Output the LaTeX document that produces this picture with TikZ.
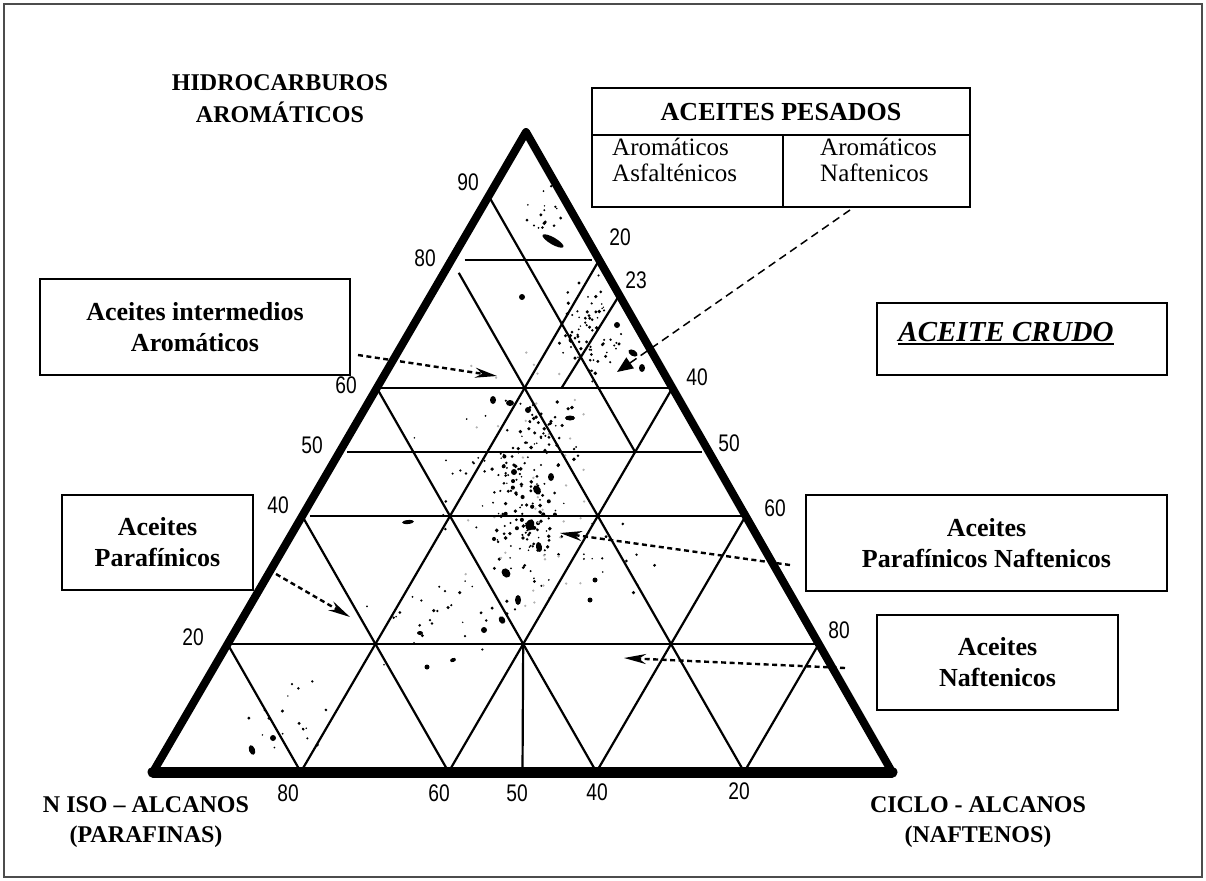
\documentclass[tikz,border=0pt]{standalone}
\usepackage{fontspec}
\setmainfont{Liberation Serif}
\newfontfamily\numfont[FakeStretch=0.8]{Liberation Sans}
\usetikzlibrary{arrows.meta}
\makeatletter
\def\tern@parse#1,#2\relax{%
  \pgfmathsetmacro\tern@x{153+373*(#1)+739*(#2)}%
  \pgfmathsetmacro\tern@y{772-640*(#1)}%
  \pgfpointxy{\tern@x}{\tern@y}}
\tikzdeclarecoordinatesystem{tern}{\tern@parse#1\relax}
\makeatother
\begin{document}
\begin{tikzpicture}[x=1pt,y=-1pt,
  grid/.style={line width=2.2pt},
  edgeline/.style={line width=8pt,line join=round,line cap=round},
  box/.style={draw,line width=1.6pt,inner sep=0pt},
  btext/.style={font=\bfseries\fontsize{26}{31}\selectfont,align=center},
  rtext/.style={font=\fontsize{25}{26}\selectfont,align=left,inner sep=0pt},
  axislab/.style={font=\bfseries\fontsize{24}{30}\selectfont,align=center},
  num/.style={font=\numfont\fontsize{24}{24}\selectfont,inner sep=0pt},
  pesarrow/.style={line width=1.5pt,dash pattern=on 8pt off 5pt,-{Triangle[length=16pt,width=13pt]}},
  scanarrow/.style={line width=2.4pt,dash pattern=on 5pt off 3.5pt,-{Stealth[length=22pt,width=10pt]}},
  speck/.style={fill=black}]
\useasboundingbox (0,0) rectangle (1206,880);
\draw[line width=2.5pt,black!70] (4,4) rectangle (1202,877);

% triangle vertices
\coordinate (A) at (526,132);
\coordinate (P) at (153,772);
\coordinate (N) at (892,772);

% speckles (crude oil samples)
\begin{scope}
\clip (A) -- (P) -- (N) -- cycle;
\pgfmathsetseed{4}
\foreach \cx/\cy/\sx/\sy/\k/\sz in {525/520/40/95/120/1.3, 590/330/35/60/70/1.1, 545/430/40/40/40/1.2, 285/720/55/40/18/1.0, 440/610/80/60/30/1.0, 545/215/25/35/16/1.0, 610/560/60/40/14/1.0, 500/470/90/80/40/0.7}{
  \foreach \i in {1,...,\k}{
    \pgfmathsetmacro\px{\cx+\sx*(rand+rand)/2}
    \pgfmathsetmacro\py{\cy+\sy*(rand+rand)/2}
    \pgfmathsetmacro\pr{0.8+\sz*rnd}
    \fill[speck] (\px,\py) circle[radius=\pr];
  }
}
\pgfmathsetseed{11}
\foreach \i in {1,...,45}{
  \pgfmathsetmacro\px{520+70*rand}
  \pgfmathsetmacro\py{480+150*rand}
  \fill[black!30] (\px,\py) circle[radius=1.3];
}
\foreach \bx/\by/\ra/\rb/\rt in {537/490/3.5/5/30, 530/525/4/6/-20, 539/547/3/5/10, 506/573/4/5/40, 518/600/3/5/0, 502/620/3/4/30, 484/630/3/3/0, 420/633/3/2/0, 427/667/2.5/2.5/0, 453/660/3/2/20, 408/522/6/2/5, 551/477/3/4/0, 514/472/3/3/0, 522/297/3/3/0, 493/400/3/4/0, 510/403/4/3/0, 528/410/3/3/0, 570/418/5/2.5/0, 617/325/3/3/0, 633/353/5/3/-30, 642/368/3/4/0, 650/340/3/3/0, 252/750/3/5/20, 273/738/3/3/0, 595/580/2.5/2.5/0, 590/600/2.5/2.5/0}{
  \fill[speck,rotate around={\rt:(\bx,\by)}] (\bx,\by) ellipse[x radius=\ra,y radius=\rb];
}
\fill[speck,rotate around={-30:(553,241)}] (553,241) ellipse[x radius=12,y radius=3.5];
\end{scope}

% horizontal grid lines (aromatic %)
\draw[grid] (tern cs:0.8,0.018) -- (tern cs:0.8,0.19);
\draw[grid] (tern cs:0.6,0) -- (tern cs:0.6,0.395);
\draw[grid] (tern cs:0.5,0.01) -- (tern cs:0.5,0.49);
\draw[grid] (tern cs:0.4,0.01) -- (tern cs:0.4,0.595);
\draw[grid] (tern cs:0.2,0) -- (tern cs:0.2,0.8);
% lines parallel to left side
\draw[grid] (tern cs:0,0.2) -- (tern cs:0.8,0.2);
\draw[grid] (tern cs:0,0.4) -- (tern cs:0.6,0.4);
\draw[grid] (tern cs:0,0.6) -- (tern cs:0.4,0.6);
\draw[grid] (tern cs:0,0.8) -- (tern cs:0.2,0.8);
\draw[grid] (tern cs:0.6,0.25) -- (tern cs:0.745,0.255);
% lines parallel to right side
\draw[grid] (tern cs:0.2,0) -- (tern cs:0,0.2);
\draw[grid] (tern cs:0.4,0) -- (tern cs:0,0.4);
\draw[grid] (tern cs:0.6,0) -- (tern cs:0,0.6);
\draw[grid] (tern cs:0.78,0.02) -- (tern cs:0,0.8);
\draw[grid] (tern cs:0.895,0.005) -- (tern cs:0.5,0.4);
% vertical 50 line
\draw[grid] (tern cs:0.2,0.4) -- (tern cs:0,0.5);

% triangle outline
\draw[edgeline] (A) -- (P) -- (N) -- cycle;
\draw[line width=11pt,line cap=round] (P) -- (N);

% scale numbers
\node[num] (l90) at (468,182) {90};
\node[num] (l80) at (425,258) {80};
\node[num] (l60) at (346,385) {60};
\node[num] (l50) at (312,445) {50};
\node[num] (l40) at (278,505) {40};
\node[num] (l20) at (193,637) {20};
\node[num] (r20) at (620,237) {20};
\node[num] (r23) at (636,280) {23};
\node[num] (r40) at (697,377) {40};
\node[num] (r50) at (729,443) {50};
\node[num] (r60) at (775,508) {60};
\node[num] (r80) at (839,630) {80};
\node[num] (b80) at (288,793) {80};
\node[num] (b60) at (439,793) {60};
\node[num] (b50) at (517,793) {50};
\node[num] (b40) at (597,792) {40};
\node[num] (b20) at (739,791) {20};

% corner labels
\node[axislab,font=\bfseries\fontsize{24}{32}\selectfont] (aro) at (280,99) {HIDROCARBUROS\\AROMÁTICOS};
\node[axislab] (parlab) at (146,822) {N ISO – ALCANOS\\(PARAFINAS)};
\node[axislab] (naflab) at (978,822) {CICLO - ALCANOS\\(NAFTENOS)};

% boxes
\node[box,btext,minimum width=310,minimum height=96] (inter) at (195,327) {Aceites intermedios\\Aromáticos};
\node[box,btext,minimum width=191,minimum height=95] (parf) at (157.5,542.5) {Aceites\\Parafínicos};
\node[box,btext,minimum width=361,minimum height=96] (pnaf) at (986.5,543) {Aceites\\Parafínicos Naftenicos};
\node[box,btext,minimum width=241,minimum height=95] (nafb) at (997.5,662.5) {Aceites\\Naftenicos};
\node[box,minimum width=290,minimum height=72] (crudo) at (1022,339) {};
\node[font=\bfseries\itshape\fontsize{29}{34}\selectfont,inner sep=0pt] (crudot) at (1006,332) {ACEITE CRUDO};
\draw[line width=2pt] ([yshift=-3pt]crudot.base west) -- ([yshift=-3pt]crudot.base east);

% heavy oils table
\node[box,minimum width=378,minimum height=119] (pes) at (781,147.5) {};
\coordinate (hdL) at (592,135);
\coordinate (hdR) at (970,135);
\coordinate (dvT) at (783,135);
\coordinate (dvB) at (783,207);
\draw[line width=1.6pt] (hdL) -- (hdR);
\draw[line width=1.6pt] (dvT) -- (dvB);
\node[font=\bfseries\fontsize{26}{31}\selectfont] (pest) at (781,112) {ACEITES PESADOS};
\node[rtext,anchor=west] (asf) at (612,160) {Aromáticos\\Asfalténicos};
\node[rtext,anchor=west] (nafp) at (820,160) {Aromáticos\\Naftenicos};

% arrows
\coordinate (pesS) at (850,210);
\coordinate (pesE) at (617,372);
\draw[pesarrow] (pesS) -- (pesE);
\coordinate (intS) at (358,355);
\coordinate (intE) at (497,376);
\draw[scanarrow] (intS) -- (intE);
\coordinate (parS) at (276,574);
\coordinate (parE) at (350,617);
\draw[scanarrow] (parS) -- (parE);
\coordinate (pnS) at (790,565);
\coordinate (pnE) at (560,533);
\draw[scanarrow] (pnS) -- (pnE);
\coordinate (nS) at (845,668);
\coordinate (nE) at (624,658);
\draw[scanarrow] (nS) -- (nE);
\end{tikzpicture}
\end{document}
